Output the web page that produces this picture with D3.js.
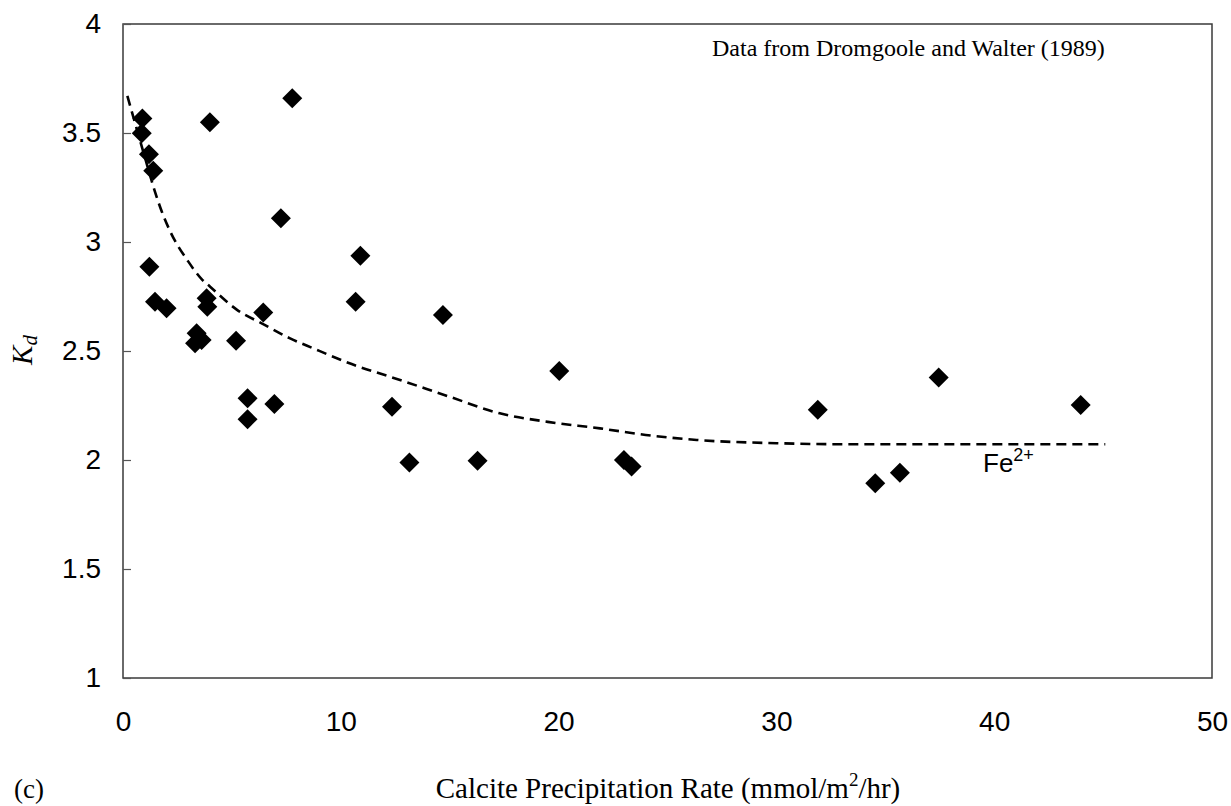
<!DOCTYPE html>
<html>
<head>
<meta charset="utf-8">
<script src="https://cdn.jsdelivr.net/npm/d3@7"></script>
<style>
  html, body { margin: 0; padding: 0; background: #fff; }
  svg { display: block; }
</style>
</head>
<body>
<svg id="chart" width="1231" height="806"></svg>
<script>
// Measured Fe2+ partition coefficients vs calcite precipitation rate
const rate = [0.89, 0.86, 1.19, 1.39, 1.21, 1.47, 2.0, 3.99, 7.77, 7.25,
              3.84, 3.87, 6.44, 3.38, 3.61, 3.31, 5.19, 5.72, 6.95, 5.72,
              10.9, 10.68, 14.69, 20.03, 12.35, 13.15, 16.28, 23.0, 23.35,
              31.9, 34.54, 35.67, 37.45, 43.97];
const kd   = [3.567, 3.499, 3.402, 3.327, 2.887, 2.726, 2.696, 3.549, 3.659, 3.109,
              2.742, 2.703, 2.677, 2.581, 2.55, 2.535, 2.547, 2.283, 2.257, 2.187,
              2.937, 2.726, 2.665, 2.408, 2.244, 1.988, 1.997, 2.0, 1.97,
              2.23, 1.893, 1.942, 2.379, 2.252];

// Fitted trend (dashed curve)
const fitRate = [0.2, 0.47, 1.0, 1.47, 1.78, 2.16, 3.0, 3.61, 4.0, 5.22, 6.5, 7.67,
                 8.74, 10.5, 12.72, 15.0, 17.3, 19.5, 21.9, 24.0, 26.34, 30.0,
                 33.6, 40.0, 45.1];
const fitKd   = [3.67, 3.575, 3.39, 3.23, 3.14, 3.05, 2.91, 2.83, 2.795, 2.69, 2.62, 2.558,
                 2.512, 2.44, 2.367, 2.29, 2.214, 2.175, 2.145, 2.115, 2.092, 2.077,
                 2.072, 2.072, 2.072];

const xTicks = [0, 10, 20, 30, 40, 50];
const yTicks = [1, 1.5, 2, 2.5, 3, 3.5, 4];

const svg = d3.select("#chart");
const m = { left: 123, top: 24, right: 1212, bottom: 678 };

const x = d3.scaleLinear().domain([0, 50]).range([m.left, m.right]);
const y = d3.scaleLinear().domain([1, 4]).range([m.bottom, m.top]);

const sans = "'Liberation Sans', Arial, sans-serif";
const serif = "'Liberation Serif', 'Times New Roman', serif";

// Plot frame
svg.append("rect")
  .attr("x", m.left).attr("y", m.top)
  .attr("width", m.right - m.left).attr("height", m.bottom - m.top)
  .attr("fill", "none").attr("stroke", "#3a3a3a").attr("stroke-width", 1.5);

// Y axis: inward ticks, labels to the left
const yAxis = d3.axisLeft(y).tickValues(yTicks).tickSizeInner(-8).tickSizeOuter(0)
  .tickPadding(30).tickFormat(d3.format("~g"));
const gy = svg.append("g").attr("transform", `translate(${m.left},0)`).call(yAxis);
gy.select(".domain").remove();
gy.selectAll(".tick line").attr("stroke", "#555").attr("stroke-width", 1.2);
gy.selectAll(".tick text").attr("font-family", sans).attr("font-size", 28)
  .attr("fill", "#000").attr("x", -22);

// X axis: labels only
const xAxis = d3.axisBottom(x).tickValues(xTicks).tickSize(0).tickPadding(33)
  .tickFormat(d3.format("d"));
const gx = svg.append("g").attr("transform", `translate(0,${m.bottom})`).call(xAxis);
gx.select(".domain").remove();
gx.selectAll(".tick text").attr("font-family", sans).attr("font-size", 28).attr("fill", "#000");

// Dashed fitted curve
const fit = fitRate.map((r, i) => [r, fitKd[i]]);
svg.append("path")
  .datum(fit)
  .attr("fill", "none").attr("stroke", "#000").attr("stroke-width", 2.6)
  .attr("stroke-dasharray", "10,6")
  .attr("d", d3.line().x(d => x(d[0])).y(d => y(d[1])).curve(d3.curveMonotoneX));

// Diamond markers
const pts = rate.map((r, i) => [r, kd[i]]);
const diamond = d3.symbol().type(d3.symbolSquare).size(200);
svg.append("g").selectAll("path")
  .data(pts).join("path")
  .attr("d", diamond)
  .attr("transform", d => `translate(${x(d[0])},${y(d[1])}) rotate(45)`)
  .attr("fill", "#000");

// Annotations
svg.append("text")
  .attr("x", 712).attr("y", 56)
  .attr("font-family", serif).attr("font-size", 24).attr("fill", "#000")
  .text("Data from Dromgoole and Walter (1989)");

const fe = svg.append("text")
  .attr("x", 983).attr("y", 472)
  .attr("font-family", sans).attr("font-size", 26).attr("fill", "#000");
fe.append("tspan").text("Fe");
fe.append("tspan").attr("font-size", 18).attr("dy", -11).text("2+");

// Axis titles
const xt = svg.append("text")
  .attr("x", 668).attr("y", 798).attr("text-anchor", "middle")
  .attr("font-family", serif).attr("font-size", 29).attr("fill", "#000");
xt.append("tspan").text("Calcite Precipitation Rate (mmol/m");
xt.append("tspan").attr("font-size", 19).attr("dy", -12).text("2");
xt.append("tspan").attr("dy", 12).text("/hr)");

svg.append("text")
  .attr("x", 14).attr("y", 798)
  .attr("font-family", serif).attr("font-size", 27).attr("fill", "#000")
  .text("(c)");

const yt = svg.append("text")
  .attr("transform", "translate(32,350) rotate(-90)")
  .attr("text-anchor", "middle")
  .attr("font-family", serif).attr("font-style", "italic").attr("font-size", 29).attr("fill", "#000");
yt.append("tspan").text("K");
yt.append("tspan").attr("font-size", 21).attr("dy", 5).text("d");
</script>
</body>
</html>
